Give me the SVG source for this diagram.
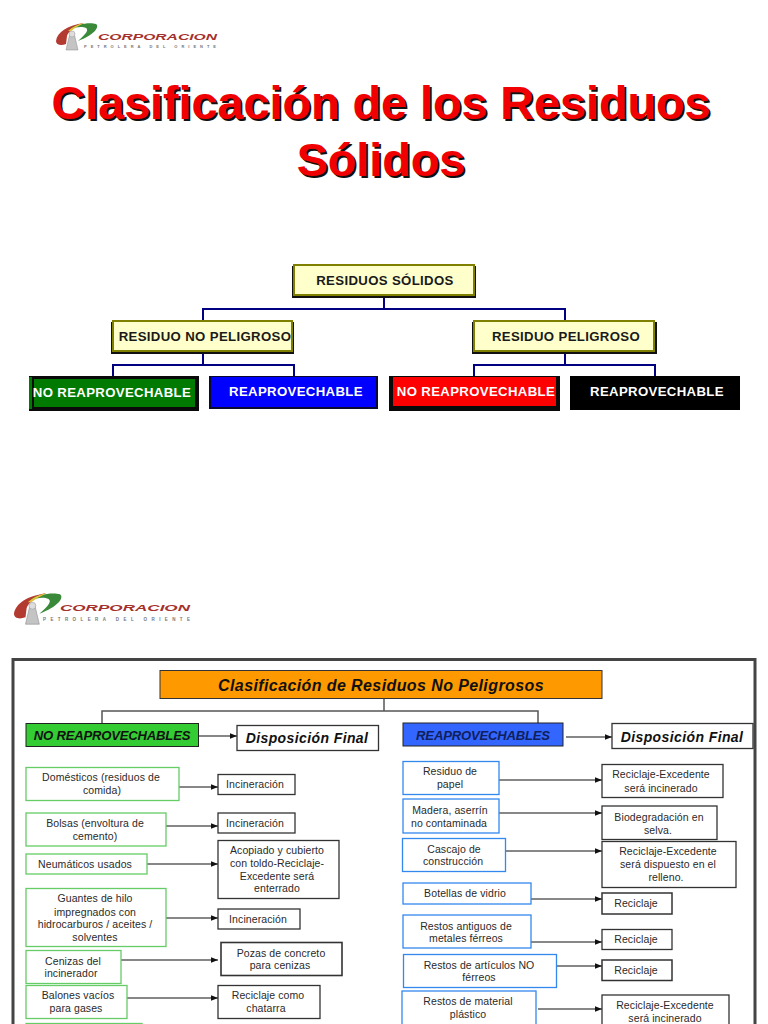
<svg xmlns="http://www.w3.org/2000/svg" width="768" height="1024" viewBox="0 0 768 1024">
<style>
text{font-family:"Liberation Sans",Arial,sans-serif;text-anchor:middle}
.title{font-size:46.7px;font-weight:bold;fill:#f00000}
.titleS{font-size:46.7px;font-weight:bold;fill:#111}
.top{font-size:13.2px;font-weight:bold;fill:#1a1a1a;letter-spacing:.35px}
.white{font-size:13.2px;font-weight:bold;fill:#fff;letter-spacing:.35px}
.yel{fill:#ffffcc;stroke:#808000;stroke-width:2}
.sh{fill:#111}
.navy{fill:none;stroke:#000080;stroke-width:2}
.grey{fill:none;stroke:#555;stroke-width:1.5}
.arr{fill:none;stroke:#111;stroke-width:1.1;marker-end:url(#a)}
.g{fill:#fff;stroke:#66cc66;stroke-width:1.3}
.b{fill:#fff;stroke:#3388ee;stroke-width:1.3}
.k{fill:#fff;stroke:#333;stroke-width:1.3}
.t{font-size:10.5px;fill:#2a2a2a;letter-spacing:.1px}
.h{font-size:14px;font-weight:bold;font-style:italic;fill:#111;letter-spacing:.4px}
.o{font-size:16px;font-weight:bold;font-style:italic;fill:#111;letter-spacing:.4px}
.h2{font-size:13.1px;font-weight:bold;font-style:italic;fill:#111;letter-spacing:-.2px}
.lg{font-weight:bold;font-style:italic;fill:#a5312c;text-anchor:start}
.ls{font-weight:bold;fill:#777;text-anchor:start}
</style>
<defs>
<marker id="a" viewBox="0 0 8 8" refX="8" refY="4" markerWidth="7" markerHeight="7" markerUnits="userSpaceOnUse" orient="auto"><path d="M0 0.8L8 4L0 7.2Z" fill="#111"/></marker>
<g id="mark">
<path d="M0 19C1 10 12 3 28 1C18 5 12 10 11 14L10 22C5 24 0 23 0 19Z" fill="#b23a30"/>
<path d="M14 7C20 2 34 0 40 2C44 5 38 13 22 19C30 12 33 8 30 6C26 4 20 5 14 7Z" fill="#3a8a3a"/>
<path d="M12 9C16 5 22 2 28 1C23 4 18 6 15 9Z" fill="#e3c23a"/>
<path d="M14 11L18 11L22 28L10 28Z" fill="#c4c4c4" stroke="#888" stroke-width=".5"/>
<circle cx="16" cy="12" r="3" fill="#ddd" stroke="#999" stroke-width=".5"/>
</g>
</defs>
<rect width="768" height="1024" fill="#fff"/>

<g id="logo-1">
<use href="#mark" x="56" y="22"/>
<text class="lg" x="98" y="40" font-size="8.500" textLength="119" lengthAdjust="spacingAndGlyphs">CORPORACION</text>
<text class="ls" x="84" y="48" font-size="4" textLength="132">PETROLERA DEL ORIENTE</text>
</g>

<g id="title">
<text class="titleS" x="383" y="121">Clasificación de los Residuos</text>
<text class="titleS" x="383" y="178">Sólidos</text>
<text class="title" x="381" y="119">Clasificación de los Residuos</text>
<text class="title" x="381" y="176">Sólidos</text>
</g>

<g id="connectors-top">
<path class="navy" d="M384 297V309M203 320V309H565V320"/>
<path class="navy" d="M203 353V365M113 377V365H294V377"/>
<path class="navy" d="M565 353V365M474 377V365H655V377"/>
</g>

<g id="residuos-solidos">
<rect class="sh" x="292" y="266" width="184" height="32"/>
<rect class="yel" x="294" y="265" width="180" height="30"/>
<text class="top" x="385" y="285">RESIDUOS SÓLIDOS</text>
</g>
<g id="residuo-no-peligroso">
<rect class="sh" x="111" y="322" width="183" height="32"/>
<rect class="yel" x="113" y="321" width="179" height="30"/>
<text class="top" x="205" y="341">RESIDUO NO PELIGROSO</text>
</g>
<g id="residuo-peligroso">
<rect class="sh" x="472" y="322" width="185" height="32"/>
<rect class="yel" x="474" y="321" width="180" height="30"/>
<text class="top" x="566" y="341">RESIDUO PELIGROSO</text>
</g>
<g id="no-reaprovechable-verde">
<rect x="29" y="376" width="170" height="35" fill="#0a0a0a"/>
<rect x="29" y="377" width="3" height="32" fill="#007a00"/>
<rect x="34" y="379" width="161" height="28" fill="#007a00"/>
<text class="white" x="112" y="397">NO REAPROVECHABLE</text>
</g>
<g id="reaprovechable-azul">
<rect x="209" y="376" width="169" height="33" fill="#0a0a30"/>
<rect x="211" y="377" width="165" height="30" fill="#0000ff"/>
<text class="white" x="296" y="396">REAPROVECHABLE</text>
</g>
<g id="no-reaprovechable-rojo">
<rect x="389" y="376" width="171" height="35" fill="#0a0a0a"/>
<rect x="393" y="377" width="163" height="29" fill="#ff0000"/>
<text class="white" x="476" y="396">NO REAPROVECHABLE</text>
</g>
<g id="reaprovechable-negro">
<rect x="570" y="376" width="170" height="34" fill="#000"/>
<text class="white" x="657" y="396">REAPROVECHABLE</text>
</g>

<g id="logo-2">
<use href="#mark" transform="translate(14 592) scale(1.15)"/>
<text class="lg" x="60" y="611" font-size="9.500" textLength="130" lengthAdjust="spacingAndGlyphs">CORPORACION</text>
<text class="ls" x="43" y="621" font-size="4.5" textLength="147">PETROLERA DEL ORIENTE</text>
</g>

<rect id="panel" x="13" y="659.5" width="742" height="380" fill="#fff" stroke="#444" stroke-width="3"/>

<g id="connectors">
<path class="grey" d="M384 698V711M102 723V711H538V723"/>
<path class="arr" d="M198 736H237"/>
<path class="arr" d="M566 737H612"/>
<path class="arr" d="M179 787H218"/>
<path class="arr" d="M166 826H218"/>
<path class="arr" d="M147 864H218"/>
<path class="arr" d="M166 918H218"/>
<path class="arr" d="M121 960H218"/>
<path class="arr" d="M127 998H218"/>
<path class="arr" d="M499 780H602"/>
<path class="arr" d="M499 813H602"/>
<path class="arr" d="M505 851H602"/>
<path class="arr" d="M531 899H602"/>
<path class="arr" d="M531 942H602"/>
<path class="arr" d="M557 966H602"/>
<path class="arr" d="M538 1009H602"/>
</g>

<g id="clasificacion"><rect x="160" y="670.5" width="442" height="28" fill="#ff9900" stroke="#333"/><text class="o" x="381" y="691">Clasificación de Residuos No Peligrosos</text></g>
<g id="no-reaprovechables"><rect x="26" y="723.5" width="172.500" height="23" fill="#33cc33" stroke="#222"/><text class="h2" x="112" y="740">NO REAPROVECHABLES</text></g>
<g id="disposicion-1"><rect class="k" x="237" y="725.500" width="141.500" height="25"/><text class="h" x="307" y="743">Disposición Final</text></g>
<g id="reaprovechables"><rect x="403" y="723" width="160" height="23" fill="#3366ff" stroke="#222"/><text class="h2" x="483" y="740" style="fill:#10205a">REAPROVECHABLES</text></g>
<g id="disposicion-2"><rect class="k" x="612" y="723.500" width="141" height="25"/><text class="h" x="682" y="742">Disposición Final</text></g>

<g id="domesticos"><rect class="g" x="26" y="767.500" width="153" height="33"/><text class="t" x="101" y="781">Domésticos (residuos de</text><text class="t" x="102" y="794">comida)</text></g>
<g id="incineracion-1"><rect class="k" x="218" y="774.500" width="77" height="20"/><text class="t" x="255" y="788">Incineración</text></g>
<g id="bolsas"><rect class="g" x="26" y="813" width="140" height="33"/><text class="t" x="95" y="827">Bolsas (envoltura de</text><text class="t" x="95" y="840">cemento)</text></g>
<g id="incineracion-2"><rect class="k" x="218" y="813" width="77" height="20"/><text class="t" x="255" y="827">Incineración</text></g>
<g id="neumaticos"><rect class="g" x="26" y="854" width="121" height="20"/><text class="t" x="85" y="868">Neumáticos usados</text></g>
<g id="acopiado"><rect class="k" x="218" y="840.500" width="121" height="58"/><text class="t" x="277" y="854">Acopiado y cubierto</text><text class="t" x="277" y="867">con toldo-Reciclaje-</text><text class="t" x="277" y="880">Excedente será</text><text class="t" x="277" y="892">enterrado</text></g>
<g id="guantes"><rect class="g" x="26" y="888.500" width="140" height="58"/><text class="t" x="95" y="902">Guantes de hilo</text><text class="t" x="95" y="916">impregnados con</text><text class="t" x="95" y="928">hidrocarburos / aceites /</text><text class="t" x="95" y="941">solventes</text></g>
<g id="incineracion-3"><rect class="k" x="218" y="909" width="82" height="20"/><text class="t" x="258" y="923">Incineración</text></g>
<g id="cenizas"><rect class="g" x="26" y="950.500" width="95" height="33"/><text class="t" x="73" y="965">Cenizas del</text><text class="t" x="71" y="977">incinerador</text></g>
<g id="pozas"><rect class="k" x="221" y="942.500" width="121" height="33" style="stroke-width:1.6"/><text class="t" x="281" y="957">Pozas de concreto</text><text class="t" x="280" y="969">para cenizas</text></g>
<g id="balones"><rect class="g" x="26" y="985.500" width="101" height="33"/><text class="t" x="78" y="999">Balones vacíos</text><text class="t" x="76" y="1012">para gases</text></g>
<g id="chatarra"><rect class="k" x="218" y="985.500" width="102" height="33"/><text class="t" x="268" y="999">Reciclaje como</text><text class="t" x="266" y="1012">chatarra</text></g>
<g id="verde-parcial"><rect class="g" x="26" y="1023.500" width="116" height="20"/></g>

<g id="papel"><rect class="b" x="403" y="761.500" width="96" height="33"/><text class="t" x="450" y="775">Residuo de</text><text class="t" x="450" y="788">papel</text></g>
<g id="reciclaje-1"><rect class="k" x="602" y="764.500" width="121" height="33"/><text class="t" x="661" y="778">Reciclaje-Excedente</text><text class="t" x="661" y="792">será incinerado</text></g>
<g id="madera"><rect class="b" x="403" y="799" width="96" height="34"/><text class="t" x="450" y="814">Madera, aserrín</text><text class="t" x="449" y="827">no contaminada</text></g>
<g id="biodegradacion"><rect class="k" x="602" y="806" width="115" height="33.500"/><text class="t" x="659" y="821">Biodegradación en</text><text class="t" x="658" y="834">selva.</text></g>
<g id="cascajo"><rect class="b" x="402.500" y="838.500" width="103" height="33"/><text class="t" x="454" y="853">Cascajo de</text><text class="t" x="453" y="865">construcción</text></g>
<g id="reciclaje-2"><rect class="k" x="602" y="841.500" width="134" height="46"/><text class="t" x="668" y="855">Reciclaje-Excedente</text><text class="t" x="668" y="868">será dispuesto en el</text><text class="t" x="666" y="881">relleno.</text></g>
<g id="botellas"><rect class="b" x="403" y="883" width="128" height="21"/><text class="t" x="465" y="897">Botellas de vidrio</text></g>
<g id="reciclaje-3"><rect class="k" x="602" y="893" width="70" height="21" style="stroke-width:1.5"/><text class="t" x="636" y="907">Reciclaje</text></g>
<g id="antiguos"><rect class="b" x="403" y="915" width="128" height="33"/><text class="t" x="466" y="930">Restos antiguos de</text><text class="t" x="466" y="942">metales férreos</text></g>
<g id="reciclaje-4"><rect class="k" x="602" y="929.500" width="70" height="20"/><text class="t" x="636" y="943">Reciclaje</text></g>
<g id="no-ferreos"><rect class="b" x="403.500" y="954.500" width="153" height="33"/><text class="t" x="479" y="969">Restos de artículos NO</text><text class="t" x="479" y="981">férreos</text></g>
<g id="reciclaje-5"><rect class="k" x="602" y="960" width="70" height="20.500" style="stroke-width:1.5"/><text class="t" x="636" y="974">Reciclaje</text></g>
<g id="plastico"><rect class="b" x="402" y="991" width="134" height="50"/><text class="t" x="468" y="1005">Restos de material</text><text class="t" x="468" y="1018">plástico</text></g>
<g id="reciclaje-6"><rect class="k" x="602" y="995" width="127" height="40"/><text class="t" x="665" y="1009">Reciclaje-Excedente</text><text class="t" x="665" y="1022">será incinerado</text></g>
</svg>
